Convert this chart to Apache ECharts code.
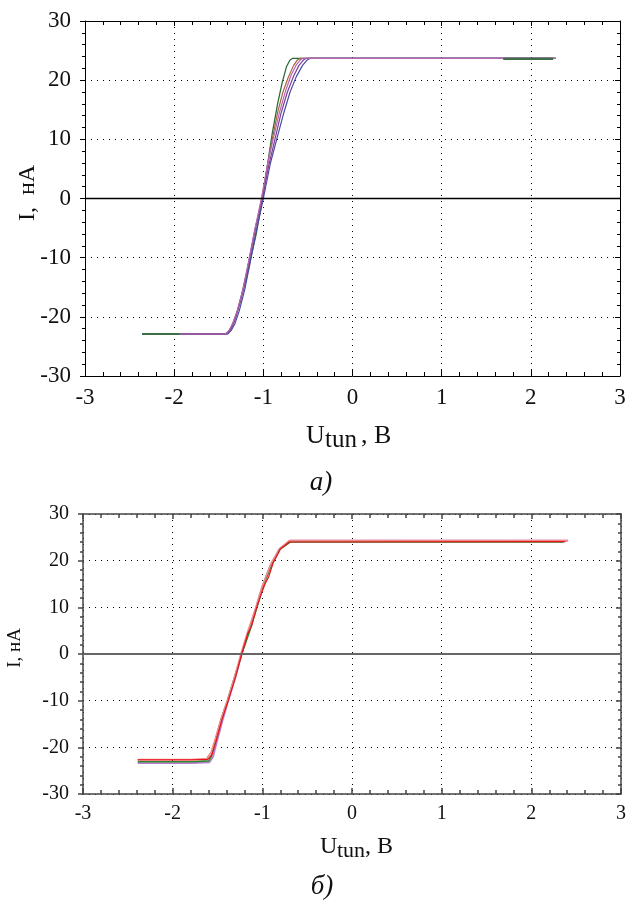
<!DOCTYPE html>
<html>
<head>
<meta charset="utf-8">
<script src="https://cdn.jsdelivr.net/npm/echarts@6/dist/echarts.min.js"></script>
<style>
html,body{margin:0;padding:0;background:#fff;}
#chart{width:629px;height:900px;}
</style>
</head>
<body>
<div id="chart"></div>
<script>
// ---------- axes ----------
const xTicks = [-3, -2, -1, 0, 1, 2, 3];
const yTicks = [-30, -20, -10, 0, 10, 20, 30];

// ---------- data: chart (а) ----------
const aGreen = [[-2.36,-22.9],[-1.43,-22.9],[-1.39,-22.5],[-1.35,-21.5],[-1.31,-20.0],[-1.26,-17.5],[-1.20,-14.0],[-1.14,-10.0],[-1.08,-6.0],[-1.02,-1.0],[-0.96,5.0],[-0.90,11.0],[-0.84,16.0],[-0.79,19.5],[-0.74,22.3],[-0.70,23.4],[-0.67,23.7],[2.25,23.7]];
const aOrange = [[-2.36,-22.9],[-1.42,-22.9],[-1.38,-22.3],[-1.34,-21.0],[-1.29,-19.0],[-1.24,-16.0],[-1.18,-12.0],[-1.12,-7.5],[-1.06,-3.0],[-1.02,0],[-0.96,5.0],[-0.90,10.0],[-0.84,14.5],[-0.78,18.0],[-0.72,20.5],[-0.66,22.5],[-0.62,23.4],[-0.58,23.7],[2.28,23.7]];
const aBlue = [[-2.36,-22.9],[-1.40,-22.9],[-1.36,-22.3],[-1.32,-21.2],[-1.27,-19.0],[-1.21,-15.5],[-1.15,-11.0],[-1.08,-5.5],[-1.00,0],[-0.92,6.0],[-0.85,10.0],[-0.77,14.5],[-0.70,18.0],[-0.63,20.6],[-0.56,22.5],[-0.51,23.4],[-0.47,23.7],[2.28,23.7]];
const aPurple = [[-2.36,-22.9],[-1.41,-22.9],[-1.37,-22.3],[-1.33,-21.0],[-1.28,-18.5],[-1.22,-15.0],[-1.16,-10.5],[-1.09,-5.0],[-1.01,0],[-0.94,5.5],[-0.87,10.0],[-0.80,14.5],[-0.73,18.0],[-0.66,20.7],[-0.60,22.5],[-0.55,23.4],[-0.52,23.7],[2.28,23.7]];
const aPink = [[-2.36,-22.9],[-1.42,-22.9],[-1.38,-22.2],[-1.34,-21.0],[-1.29,-18.8],[-1.23,-15.5],[-1.17,-11.0],[-1.10,-5.5],[-1.02,0],[-0.95,6.0],[-0.89,10.0],[-0.82,14.5],[-0.75,18.2],[-0.69,20.8],[-0.63,22.6],[-0.58,23.5],[-0.55,23.7],[2.28,23.7]];
const aGreenEnds = [[-2.36,-22.9],[-1.94,-22.9],null,[1.69,23.6],[2.25,23.6]];

// ---------- data: chart (б) ----------
const bPink = [[-2.39,-22.6],[-1.79,-22.6],[-1.62,-22.4],[-1.57,-21.0],[-1.53,-18.5],[-1.46,-14.0],[-1.39,-10.0],[-1.31,-5.0],[-1.24,0],[-1.16,5.0],[-1.07,10.0],[-1.00,14.5],[-0.90,19.5],[-0.80,22.6],[-0.70,24.3],[2.41,24.3]];
const bRed = [[-2.39,-22.7],[-1.79,-22.7],[-1.61,-22.6],[-1.56,-21.5],[-1.52,-19.0],[-1.45,-14.0],[-1.38,-10.0],[-1.30,-5.0],[-1.23,0],[-1.16,4.5],[-1.12,6.0],[-1.07,9.5],[-1.02,12.5],[-0.97,15.0],[-0.93,16.5],[-0.88,19.5],[-0.80,22.5],[-0.70,24.0],[2.38,24.1]];
const bGreen = [[-2.39,-23.1],[-1.79,-23.1],[-1.60,-22.9],[-1.57,-22.0],[-1.53,-19.0],[-1.46,-14.0],[-1.39,-10.0],[-1.31,-5.0],[-1.23,0],[-1.14,5.0],[-1.06,10.0],[-0.99,14.5],[-0.90,19.0],[-0.80,22.5],[-0.69,24.0],[2.36,24.0]];
const bPurple = [[-2.39,-23.4],[-1.79,-23.4],[-1.59,-23.2],[-1.55,-22.0],[-1.51,-19.0],[-1.44,-14.0],[-1.38,-10.0],[-1.30,-5.0],[-1.23,0],[-1.15,5.0],[-1.07,10.0],[-1.00,14.5],[-0.91,19.0],[-0.81,22.5],[-0.69,24.3],[2.41,24.3]];

const serif = '"Liberation Serif", "DejaVu Serif", serif';

function xAxes(grid, col, w, fs) {
  const line = {show:true, onZero:false, lineStyle:{color:col, width:w}};
  return [
    {gridIndex:grid, type:'value', min:xTicks[0], max:xTicks[xTicks.length-1], interval:1, position:'bottom',
     axisLine:line, axisTick:{show:true, inside:true, length:6, lineStyle:{color:col, width:w}},
     minorTick:{show:true, splitNumber:5, length:4, lineStyle:{color:col, width:w}},
     splitLine:{show:true, lineStyle:{color:'#000', width:1, type:[1,5]}},
     axisLabel:{show:true, margin:10, color:'#111', fontFamily:serif, fontSize:fs}},
    {gridIndex:grid, type:'value', min:xTicks[0], max:xTicks[xTicks.length-1], interval:1, position:'top',
     axisLine:line, axisTick:{show:true, inside:true, length:5, lineStyle:{color:col, width:w}},
     minorTick:{show:true, splitNumber:5, length:4, lineStyle:{color:col, width:w}},
     splitLine:{show:false}, axisLabel:{show:false}}
  ];
}
function yAxes(grid, col, w, fs) {
  const line = {show:true, onZero:false, lineStyle:{color:col, width:w}};
  return [
    {gridIndex:grid, type:'value', min:yTicks[0], max:yTicks[yTicks.length-1], interval:10, position:'left',
     axisLine:line, axisTick:{show:true, inside:false, length:5, lineStyle:{color:col, width:w}},
     minorTick:{show:true, splitNumber:5, length:3, lineStyle:{color:col, width:w}},
     splitLine:{show:true, lineStyle:{color:'#000', width:1, type:[1,5]}},
     axisLabel:{show:true, margin:14, color:'#111', fontFamily:serif, fontSize:fs}},
    {gridIndex:grid, type:'value', min:yTicks[0], max:yTicks[yTicks.length-1], interval:10, position:'right',
     axisLine:line, axisTick:{show:true, inside:true, length:5, lineStyle:{color:col, width:w}},
     minorTick:{show:true, splitNumber:5, length:3, lineStyle:{color:col, width:w}},
     splitLine:{show:false}, axisLabel:{show:false}}
  ];
}

function ser(name, data, color, width, xi, yi, zero) {
  const s = {name:name, type:'line', data:data, xAxisIndex:xi, yAxisIndex:yi,
    showSymbol:false, symbol:'none', connectNulls:false, smooth:false,
    lineStyle:{color:color, width:width}, itemStyle:{color:color}, z:3};
  if (zero) {
    s.markLine = {silent:true, symbol:'none', label:{show:false},
      lineStyle:{color:zero.color, width:zero.width, type:'solid'},
      data:[{yAxis:0}], animation:false};
  }
  return s;
}

const chart = echarts.init(document.getElementById('chart'), null, {renderer:'canvas'});
chart.setOption({
  animation:false,
  backgroundColor:'#fff',
  grid:[
    {left:85, top:21, width:535, height:355},
    {left:83, top:514, width:544, height:280}
  ],
  xAxis: xAxes(0, '#000', 1, 23).concat(xAxes(1, '#444', 1.5, 20)),
  yAxis: yAxes(0, '#000', 1, 23).concat(yAxes(1, '#444', 1.5, 20)),
  series:[
    ser('a-green', aGreen, '#2f6b3a', 1.3, 0, 0, {color:'#000', width:1.3}),
    ser('a-orange', aOrange, '#a8643c', 1.2, 0, 0),
    ser('a-blue', aBlue, '#4a4aa8', 1.2, 0, 0),
    ser('a-purple', aPurple, '#7d3f9a', 1.2, 0, 0),
    ser('a-pink', aPink, '#b468b4', 1.2, 0, 0),
    ser('a-green-ends', aGreenEnds, '#3d6e45', 2.2, 0, 0),
    ser('b-purple', bPurple, '#b77ad0', 1.8, 2, 2, {color:'#666', width:2.2}),
    ser('b-green', bGreen, '#2a8a2a', 1.6, 2, 2),
    ser('b-pink', bPink, '#f28a8a', 1.6, 2, 2),
    ser('b-red', bRed, '#e8141e', 1.2, 2, 2)
  ],
  graphic:[
    {type:'text', x:28, y:193, rotation:Math.PI/2,
     style:{text:'I,  нА', font:'24px ' + serif, fill:'#111', align:'center', verticalAlign:'middle', textAlign:'center', textVerticalAlign:'middle'}},
    {type:'text', x:306, y:436, style:{text:'U', font:'26px ' + serif, fill:'#111', align:'left', verticalAlign:'middle', textAlign:'left', textVerticalAlign:'middle'}},
    {type:'text', x:325, y:440, style:{text:'tun', font:'25px ' + serif, fill:'#111', align:'left', verticalAlign:'middle', textAlign:'left', textVerticalAlign:'middle'}},
    {type:'text', x:361, y:436, style:{text:', B', font:'26px ' + serif, fill:'#111', align:'left', verticalAlign:'middle', textAlign:'left', textVerticalAlign:'middle'}},
    {type:'text', x:321, y:483, style:{text:'а)', font:'italic 27px ' + serif, fill:'#111', align:'center', verticalAlign:'middle', textAlign:'center', textVerticalAlign:'middle'}},

    {type:'text', x:15, y:648, rotation:Math.PI/2,
     style:{text:'I, нА', font:'19px ' + serif, fill:'#111', align:'center', verticalAlign:'middle', textAlign:'center', textVerticalAlign:'middle'}},
    {type:'text', x:320, y:847, style:{text:'U', font:'24px ' + serif, fill:'#111', align:'left', verticalAlign:'middle', textAlign:'left', textVerticalAlign:'middle'}},
    {type:'text', x:337, y:851, style:{text:'tun', font:'22px ' + serif, fill:'#111', align:'left', verticalAlign:'middle', textAlign:'left', textVerticalAlign:'middle'}},
    {type:'text', x:365, y:847, style:{text:', B', font:'24px ' + serif, fill:'#111', align:'left', verticalAlign:'middle', textAlign:'left', textVerticalAlign:'middle'}},
    {type:'text', x:322, y:887, style:{text:'б)', font:'italic 27px ' + serif, fill:'#111', align:'center', verticalAlign:'middle', textAlign:'center', textVerticalAlign:'middle'}}
  ]
});
</script>
</body>
</html>
